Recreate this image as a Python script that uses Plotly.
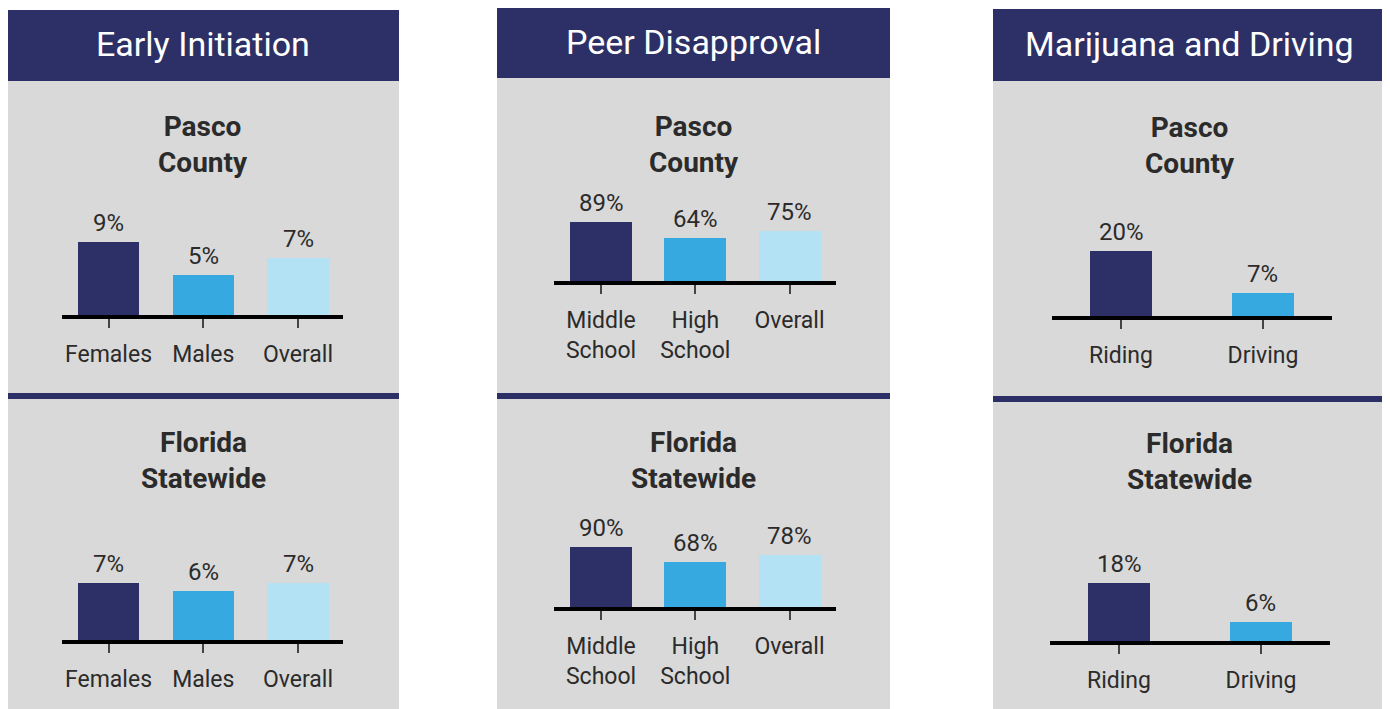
import plotly.graph_objects as go

# The page body has an 8px default margin; the figure is sized/offset to fill the window.
OFF = 8
W, H = 1390, 709
FW, FH = W - OFF, H - OFF

# ---------------- data ----------------
panel_titles = ["Early Initiation", "Peer Disapproval", "Marijuana and Driving"]
region_titles = ["Pasco<br>County", "Florida<br>Statewide"]

early_categories = ["Females", "Males", "Overall"]
early_pasco = [9, 5, 7]
early_florida = [7, 6, 7]

peer_categories = ["Middle<br>School", "High<br>School", "Overall"]
peer_pasco = [89, 64, 75]
peer_florida = [90, 68, 78]

driving_categories = ["Riding", "Driving"]
driving_pasco = [20, 7]
driving_florida = [18, 6]

# ---------------- styles ----------------
NAVY = "#2d3066"
BLUE = "#35a9e0"
LIGHT = "#b3e2f5"
GREY = "#d9d9d9"
TEXT = "#2b2b2b"
FONT = "Roboto, 'Open Sans', sans-serif"
bar_colors = [NAVY, BLUE, LIGHT]


def px(x):
    return (x - OFF) / FW


def py(y):
    return 1 - (y - OFF) / FH


# panel boxes: (x0, x1, header_top, header_bottom, divider_top, divider_bottom)
panels = [
    (7, 399, 10, 81, 393, 399),
    (497, 890, 7, 78, 393, 399),
    (993, 1386, 9, 81, 396, 402),
]

# subplot layout: (categories, values, x0px, x1px, baseline_px, px_per_unit, xrange, barwidth, title_center_y, region)
subplots = [
    (early_categories, early_pasco, 62, 343, 317, 8.1, [-0.491, 2.475], 0.644, 144, 0),
    (early_categories, early_florida, 62, 343, 642, 8.1, [-0.491, 2.475], 0.644, 460, 1),
    (peer_categories, peer_pasco, 554, 836, 283, 0.667, [-0.499, 2.493], 0.658, 144, 0),
    (peer_categories, peer_florida, 554, 836, 609, 0.667, [-0.499, 2.493], 0.658, 460, 1),
    (driving_categories, driving_pasco, 1052, 1332, 318, 3.25, [-0.486, 1.486], 0.437, 145, 0),
    (driving_categories, driving_florida, 1050, 1330, 643, 3.25, [-0.486, 1.486], 0.437, 461, 1),
]

fig = go.Figure()
shapes = []
annotations = []

for i, (x0, x1, ht, hb, dt, db) in enumerate(panels):
    shapes.append(dict(type="rect", xref="paper", yref="paper", x0=px(x0), x1=px(x1),
                       y0=py(H + 5), y1=py(hb), fillcolor=GREY, line=dict(width=0), layer="below"))
    shapes.append(dict(type="rect", xref="paper", yref="paper", x0=px(x0), x1=px(x1),
                       y0=py(hb), y1=py(ht), fillcolor=NAVY, line=dict(width=0), layer="below"))
    shapes.append(dict(type="rect", xref="paper", yref="paper", x0=px(x0), x1=px(x1),
                       y0=py(db), y1=py(dt), fillcolor=NAVY, line=dict(width=0), layer="below"))
    annotations.append(dict(text=panel_titles[i], xref="paper", yref="paper",
                            x=px((x0 + x1) / 2), y=py((ht + hb) / 2 - 1), xanchor="center", yanchor="middle",
                            showarrow=False, font=dict(family=FONT, size=34, color="white")))

layout_axes = {}
for k, (cats, vals, x0, x1, base, scale, xr, bw, tcy, reg) in enumerate(subplots):
    n = k + 1
    xa = "x" if n == 1 else f"x{n}"
    ya = "y" if n == 1 else f"y{n}"
    top = 110
    lw = 4
    ybottom = base - lw / 2
    fig.add_trace(go.Bar(
        x=list(range(len(cats))), y=vals, xaxis=xa, yaxis=ya, width=bw,
        marker=dict(color=bar_colors[:len(cats)], line=dict(width=0)),
        showlegend=False, hoverinfo="skip",
    ))
    layout_axes[f"xaxis{'' if n == 1 else n}"] = dict(
        domain=[px(x0), px(x1)], anchor=ya, range=xr,
        tickmode="array", tickvals=list(range(len(cats))), ticktext=cats,
        showline=True, linecolor="black", linewidth=lw, mirror=False,
        ticks="outside", ticklen=9, tickwidth=2, tickcolor="#444",
        ticklabelstandoff=6,
        tickfont=dict(family=FONT, size=23, color=TEXT),
        showgrid=False, zeroline=False, fixedrange=True,
    )
    layout_axes[f"yaxis{'' if n == 1 else n}"] = dict(
        domain=[py(ybottom), py(ybottom - top)], anchor=xa,
        range=[0, top / scale], visible=False, showgrid=False, zeroline=False, fixedrange=True,
    )
    for j, v in enumerate(vals):
        annotations.append(dict(text=f"{v}%", xref=xa, yref=ya, x=j, y=v,
                                xanchor="center", yanchor="bottom", yshift=3, showarrow=False,
                                font=dict(family=FONT, size=24, color=TEXT)))
    pcx = (panels[k // 2][0] + panels[k // 2][1]) / 2
    t = region_titles[reg].split("<br>")
    annotations.append(dict(text="<b>" + t[0] + "</b><br><b>" + t[1] + "</b>", xref="paper", yref="paper",
                            x=px(pcx), y=py(tcy), xanchor="center", yanchor="middle", showarrow=False,
                            font=dict(family=FONT, size=28, color=TEXT)))

fig.update_layout(
    width=FW, height=FH, margin=dict(l=0, r=0, t=0, b=0),
    paper_bgcolor="white", plot_bgcolor="rgba(0,0,0,0)",
    shapes=shapes, annotations=annotations, bargap=0,
    **layout_axes,
)

fig.write_html("out.html")
